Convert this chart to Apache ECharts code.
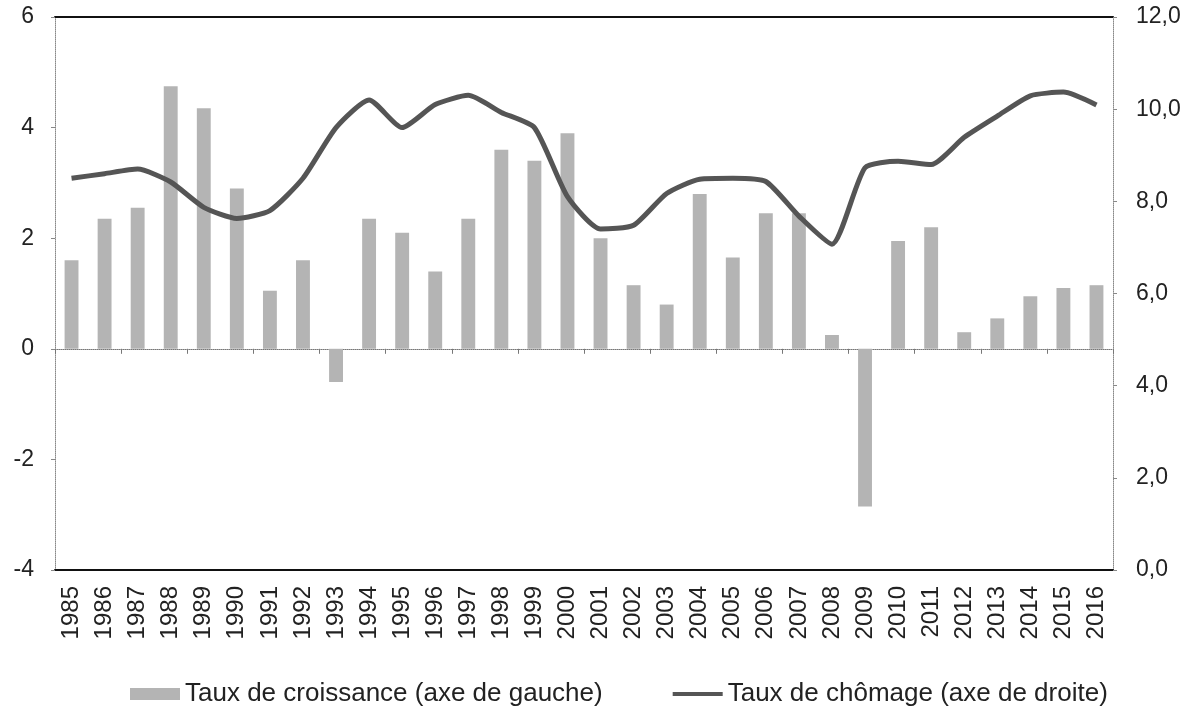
<!DOCTYPE html>
<html>
<head>
<meta charset="utf-8">
<script src="https://cdn.jsdelivr.net/npm/echarts@6/dist/echarts.min.js"></script>
<style>
  html, body { margin: 0; padding: 0; background: #fff; }
  #chart { width: 1196px; height: 709px; }
</style>
</head>
<body>
<div id="chart"></div>
<script>
// années
const years = ["1985", "1986", "1987", "1988", "1989", "1990", "1991", "1992", "1993", "1994",
  "1995", "1996", "1997", "1998", "1999", "2000", "2001", "2002", "2003", "2004",
  "2005", "2006", "2007", "2008", "2009", "2010", "2011", "2012", "2013", "2014",
  "2015", "2016"];
// taux de croissance (axe de gauche)
const croissance = [1.6, 2.35, 2.55, 4.75, 4.35, 2.9, 1.05, 1.6, -0.6, 2.35,
  2.1, 1.4, 2.35, 3.6, 3.4, 3.9, 2.0, 1.15, 0.8, 2.8,
  1.65, 2.45, 2.45, 0.25, -2.85, 1.95, 2.2, 0.3, 0.55, 0.95,
  1.1, 1.15];
// taux de chômage (axe de droite)
const chomage = [8.5, 8.6, 8.7, 8.42, 7.87, 7.63, 7.8, 8.5, 9.6, 10.2,
  9.6, 10.1, 10.3, 9.93, 9.6, 8.1, 7.4, 7.48, 8.17, 8.48,
  8.5, 8.43, 7.68, 7.07, 8.73, 8.87, 8.8, 9.39, 9.85, 10.29,
  10.37, 10.09];
const leftTicks = { min: -4, max: 6, interval: 2 };
const rightTicks = { min: 0, max: 12, interval: 2 };

const font = "Liberation Sans, Arial, sans-serif";
// icône de légende : trait fin centré (les deux triangles vides fixent la hauteur)
const lineIcon = "path://M0,0L52,0L52,0Z M0,4L52,4L52,8L0,8Z M0,12L52,12L52,12Z";
let myChart = echarts.init(document.getElementById("chart"));

let option = {
  animation: false,
  textStyle: { fontFamily: font },
  grid: { left: 55, right: 83, top: 17, bottom: 139, containLabel: false },
  legend: {
    top: 676,
    left: 125,
    itemGap: 70,
    itemWidth: 50,
    itemHeight: 12,
    textStyle: { fontSize: 26, color: "#222", fontFamily: font },
    data: [
      { name: "Taux de croissance (axe de gauche)", icon: "rect" },
      { name: "Taux de chômage (axe de droite)", icon: lineIcon, itemStyle: { color: "#555" } }
    ]
  },
  xAxis: [
    {
      // bas du cadre + étiquettes
      type: "category",
      data: years,
      position: "bottom",
      axisLine: { onZero: false, lineStyle: { color: "#111", width: 2 } },
      axisTick: { show: false },
      axisLabel: { rotate: 90, fontSize: 24, color: "#222", margin: 16, interval: 0 }
    },
    {
      // haut du cadre
      type: "category",
      data: years,
      position: "top",
      axisLine: { onZero: false, lineStyle: { color: "#111", width: 2 } },
      axisTick: { show: false },
      axisLabel: { show: false }
    },
    {
      // ligne du zéro
      type: "category",
      data: years,
      position: "bottom",
      axisLine: { onZero: true, onZeroAxisIndex: 0, lineStyle: { color: "#777", width: 1, type: "dotted" } },
      axisTick: { show: true, length: 5, lineStyle: { color: "#777" } },
      axisLabel: { show: false }
    }
  ],
  yAxis: [
    {
      type: "value",
      position: "left",
      min: leftTicks.min,
      max: leftTicks.max,
      interval: leftTicks.interval,
      axisLine: { show: true, lineStyle: { color: "#888", type: "dotted" } },
      axisTick: { show: true, length: 4, lineStyle: { color: "#888" } },
      splitLine: { show: false },
      axisLabel: { fontSize: 23, color: "#222", margin: 21 }
    },
    {
      type: "value",
      position: "right",
      min: rightTicks.min,
      max: rightTicks.max,
      interval: rightTicks.interval,
      axisLine: { show: true, lineStyle: { color: "#888", type: "dotted" } },
      axisTick: { show: true, length: 4, lineStyle: { color: "#888" } },
      splitLine: { show: false },
      axisLabel: {
        fontSize: 23, color: "#222", margin: 23,
        formatter: v => v.toFixed(1).replace(".", ",")
      }
    }
  ],
  series: [
    {
      name: "Taux de croissance (axe de gauche)",
      type: "bar",
      xAxisIndex: 0,
      yAxisIndex: 0,
      barWidth: "42%",
      itemStyle: { color: "#b4b4b4" },
      data: croissance
    },
    {
      name: "Taux de chômage (axe de droite)",
      type: "line",
      xAxisIndex: 0,
      yAxisIndex: 1,
      smooth: 0.2,
      symbol: "none",
      lineStyle: { color: "#555", width: 5 },
      itemStyle: { color: "#555" },
      data: chomage
    }
  ]
};
myChart.setOption(option);
</script>
</body>
</html>
